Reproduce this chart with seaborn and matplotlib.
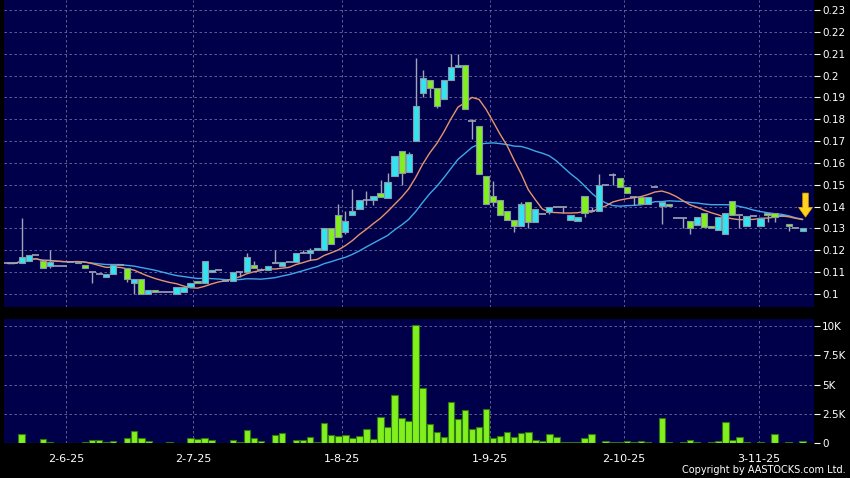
import numpy as np
import pandas as pd
import matplotlib
matplotlib.use("Agg")
import matplotlib.pyplot as plt
import seaborn as sns

# daily candles (price in HKD), volume in thousands of shares
opens = [0.114, 0.114, 0.114, 0.1151, 0.1178, 0.115, 0.113, 0.113, 0.113, 0.1145,
         0.114, 0.1133, 0.110, 0.109, 0.108, 0.109, 0.1133, 0.1118, 0.1049, 0.1067,
         0.100, 0.1018, 0.1008, 0.1008, 0.100, 0.1008, 0.103, 0.106, 0.105, 0.110,
         0.111, 0.106, 0.106, 0.110, 0.110, 0.1133, 0.1108, 0.111, 0.1148, 0.113,
         0.1148, 0.1148, 0.119, 0.119, 0.120, 0.120, 0.130, 0.1362, 0.1286, 0.136,
         0.1388, 0.143, 0.143, 0.1461, 0.1438, 0.154, 0.1657, 0.156, 0.170, 0.192,
         0.1982, 0.1941, 0.1895, 0.198, 0.204, 0.205, 0.1792, 0.177, 0.154, 0.1448,
         0.1431, 0.138, 0.1338, 0.1311, 0.142, 0.1331, 0.1366, 0.1377, 0.140, 0.140,
         0.1338, 0.1335, 0.1449, 0.138, 0.138, 0.150, 0.1546, 0.1531, 0.1489, 0.1446,
         0.1443, 0.1412, 0.149, 0.1403, 0.1411, 0.135, 0.135, 0.1335, 0.1315, 0.137,
         0.131, 0.1295, 0.1277, 0.1428, 0.136, 0.1311, 0.1357, 0.1311, 0.1369, 0.1369,
         0.1357, 0.132, 0.130, 0.1288]
closes = [0.114, 0.114, 0.117, 0.1178, 0.1178, 0.112, 0.1148, 0.113, 0.113, 0.1145,
          0.1148, 0.1118, 0.110, 0.109, 0.109, 0.1133, 0.1133, 0.1067, 0.1067, 0.100,
          0.1018, 0.1008, 0.1008, 0.1008, 0.103, 0.103, 0.105, 0.105, 0.115, 0.111,
          0.111, 0.106, 0.110, 0.110, 0.1168, 0.1118, 0.1108, 0.113, 0.114, 0.1148,
          0.1148, 0.119, 0.119, 0.120, 0.1212, 0.130, 0.123, 0.126, 0.1336, 0.138,
          0.143, 0.143, 0.1449, 0.1446, 0.1513, 0.1632, 0.1555, 0.1642, 0.1863, 0.199,
          0.1941, 0.1859, 0.1979, 0.204, 0.205, 0.1845, 0.1792, 0.155, 0.1413, 0.142,
          0.1362, 0.1338, 0.1311, 0.1412, 0.1331, 0.1388, 0.1366, 0.140, 0.140, 0.140,
          0.1362, 0.1351, 0.1372, 0.138, 0.150, 0.150, 0.1546, 0.1489, 0.1462, 0.1446,
          0.1412, 0.1446, 0.149, 0.1423, 0.1403, 0.135, 0.135, 0.130, 0.1351, 0.1308,
          0.130, 0.1351, 0.137, 0.1362, 0.136, 0.1357, 0.1357, 0.1349, 0.1362, 0.1351,
          0.1357, 0.1312, 0.130, 0.130]
highs = [0.114, 0.114, 0.135, 0.118, 0.1178, 0.115, 0.120, 0.113, 0.113, 0.1145,
         0.1148, 0.1133, 0.110, 0.109, 0.109, 0.1138, 0.1133, 0.1118, 0.1067, 0.1067,
         0.1018, 0.1018, 0.1008, 0.1008, 0.103, 0.103, 0.105, 0.106, 0.115, 0.111,
         0.111, 0.106, 0.110, 0.110, 0.119, 0.1152, 0.112, 0.113, 0.120, 0.1148,
         0.1148, 0.119, 0.120, 0.1212, 0.1212, 0.130, 0.130, 0.1412, 0.1382, 0.148,
         0.143, 0.1472, 0.1449, 0.1522, 0.1553, 0.1632, 0.1657, 0.1651, 0.208, 0.2024,
         0.1982, 0.1941, 0.1979, 0.210, 0.210, 0.205, 0.180, 0.177, 0.154, 0.1517,
         0.1431, 0.138, 0.1338, 0.142, 0.142, 0.1388, 0.1366, 0.140, 0.140, 0.140,
         0.1362, 0.1351, 0.1449, 0.140, 0.155, 0.150, 0.1554, 0.1531, 0.1489, 0.1446,
         0.1443, 0.1446, 0.149, 0.1423, 0.1411, 0.135, 0.135, 0.1335, 0.1351, 0.137,
         0.131, 0.1351, 0.137, 0.1428, 0.136, 0.1357, 0.1357, 0.1349, 0.1369, 0.1369,
         0.1357, 0.132, 0.130, 0.130]
lows = [0.114, 0.114, 0.114, 0.115, 0.1178, 0.112, 0.112, 0.113, 0.113, 0.1145,
        0.114, 0.1118, 0.105, 0.109, 0.108, 0.109, 0.1133, 0.1057, 0.100, 0.100,
        0.100, 0.1008, 0.1008, 0.1008, 0.100, 0.1008, 0.103, 0.105, 0.105, 0.110,
        0.111, 0.106, 0.106, 0.108, 0.110, 0.1118, 0.1108, 0.111, 0.114, 0.113,
        0.1148, 0.1148, 0.119, 0.1156, 0.120, 0.120, 0.123, 0.126, 0.1275, 0.136,
        0.1388, 0.1408, 0.1408, 0.1446, 0.1438, 0.154, 0.150, 0.156, 0.170, 0.190,
        0.190, 0.185, 0.1895, 0.198, 0.204, 0.1845, 0.1708, 0.155, 0.1413, 0.1405,
        0.1362, 0.1338, 0.1285, 0.1311, 0.130, 0.1331, 0.1366, 0.1366, 0.140, 0.1372,
        0.1338, 0.1335, 0.1351, 0.138, 0.138, 0.150, 0.150, 0.1489, 0.1462, 0.1408,
        0.1412, 0.1412, 0.149, 0.132, 0.1403, 0.135, 0.130, 0.1277, 0.1315, 0.1308,
        0.130, 0.1295, 0.1277, 0.1362, 0.130, 0.1311, 0.1357, 0.1311, 0.1331, 0.133,
        0.1357, 0.129, 0.130, 0.1288]
volumes = [0, 0, 0.77, 0.05, 0, 0.34, 0.14, 0, 0, 0,
           0, 0.10, 0.28, 0.28, 0.14, 0.20, 0, 0.48, 1.05, 0.43,
           0.20, 0, 0, 0.08, 0, 0, 0.43, 0.37, 0.43, 0.28,
           0, 0, 0.26, 0.10, 1.10, 0.48, 0.20, 0, 0.71, 0.88,
           0, 0.28, 0.28, 0.51, 0.09, 1.73, 0.74, 0.60, 0.74, 0.43,
           0.60, 1.25, 0.34, 2.24, 1.42, 4.15, 2.20, 1.93, 10.06, 4.69,
           1.62, 0.94, 0.51, 3.55, 2.05, 2.84, 1.19, 1.36, 2.90, 0.43,
           0.63, 1.00, 0.51, 0.85, 0.97, 0.26, 0.23, 0.77, 0.57, 0.09,
           0.09, 0.14, 0.43, 0.77, 0, 0.23, 0.10, 0.09, 0.20, 0.14,
           0.23, 0.09, 0, 2.19, 0.09, 0, 0.14, 0.26, 0.11, 0,
           0.09, 0.20, 1.85, 0.28, 0.54, 0.09, 0, 0.09, 0, 0.77,
           0, 0.09, 0.05, 0.20]

date_pos = [8.3, 26.4, 47.5, 68.6, 87.6, 106.8]
date_labels = ["2-6-25", "2-7-25", "1-8-25", "1-9-25", "2-10-25", "3-11-25"]
price_ticks = [0.10, 0.11, 0.12, 0.13, 0.14, 0.15, 0.16, 0.17, 0.18, 0.19, 0.20, 0.21, 0.22, 0.23]
price_labels = ["0.1", "0.11", "0.12", "0.13", "0.14", "0.15", "0.16", "0.17",
                "0.18", "0.19", "0.2", "0.21", "0.22", "0.23"]
vol_ticks = [0, 2.5, 5, 7.5, 10]
vol_labels = ["0", "2.5K", "5K", "7.5K", "10K"]

NAVY = "#00004a"
GRID = "#6c6ca0"
CYAN = "#33e3f0"
LIME = "#82f01e"
EDGE = "#8a98a6"
WICK = "#a0a4b4"

df = pd.DataFrame({"open": opens, "high": highs, "low": lows,
                   "close": closes, "volume": volumes})
df["day"] = np.arange(len(df))
df["ma10"] = df["close"].rolling(10, min_periods=1).mean()
df["ma20"] = df["close"].rolling(20, min_periods=1).mean()

sns.set_style("dark", {"axes.facecolor": NAVY, "figure.facecolor": "black"})
plt.rcParams["font.family"] = ["DejaVu Sans"]

fig = plt.figure(figsize=(8.5, 4.78), dpi=100, facecolor="black")
ax = fig.add_axes([0.0047, 0.3584, 0.9529, 0.6416])
axv = fig.add_axes([0.0047, 0.0726, 0.9529, 0.26])

# moving averages
sns.lineplot(data=df, x="day", y="ma20", ax=ax, color="#3ea8e8", lw=1.0, zorder=2)
sns.lineplot(data=df, x="day", y="ma10", ax=ax, color="#e89468", lw=1.0, zorder=2)

# candles
up = df[df.close > df.open]
down = df[df.close < df.open]
flat = df[df.close == df.open]
wk = df[df.high > df.low]
ax.vlines(wk.day, wk.low, wk.high, color=WICK, lw=1.0, zorder=3)
ax.bar(up.day, up.close - up.open, bottom=up.open, width=0.88,
       color=CYAN, edgecolor=EDGE, linewidth=0.8, zorder=4)
ax.bar(down.day, down.open - down.close, bottom=down.close, width=0.88,
       color=LIME, edgecolor=EDGE, linewidth=0.8, zorder=4)
ax.hlines(flat.close, flat.day - 0.5, flat.day + 0.5, color=WICK, lw=1.2, zorder=4)

last = df.iloc[-1]
ax.annotate("", xy=(last.day + 0.4, 0.1352), xytext=(last.day + 0.4, 0.1462),
            arrowprops=dict(arrowstyle="simple,head_length=0.7,head_width=1.0,tail_width=0.4",
                            fc="#ffd21e", ec="#e8a800", lw=0.5, shrinkA=0, shrinkB=0,
                            mutation_scale=10),
            annotation_clip=False, zorder=6)

# volume
sns.barplot(data=df, x="day", y="volume", native_scale=True, ax=axv, color=LIME,
            saturation=1, edgecolor="#2f7a10", linewidth=0.8, width=0.92,
            errorbar=None, zorder=3)

for a in (ax, axv):
    a.set_xlim(-0.51, 114.6)
    a.set_xticks(date_pos)
    a.grid(True, color=GRID, linestyle=(0, (3, 3)), lw=0.6)
    a.set_axisbelow(True)
    a.set_xlabel("")
    a.set_ylabel("")
    a.yaxis.tick_right()
    a.tick_params(axis="y", colors="white", length=4, width=0.8, pad=2, labelsize=7.5)
    for s in a.spines.values():
        s.set_visible(False)

ax.set_ylim(0.0942, 0.2346)
ax.set_yticks(price_ticks)
ax.set_yticklabels(price_labels)
ax.tick_params(axis="x", length=0, labelbottom=False)

axv.set_ylim(0, 10.6)
axv.set_yticks(vol_ticks)
axv.set_yticklabels(vol_labels)
axv.set_xticklabels(date_labels)
axv.tick_params(axis="x", colors="white", length=3, width=0.8, pad=5, labelsize=8)

fig.text(0.9945, 0.006, "Copyright by AASTOCKS.com Ltd.", ha="right", va="bottom",
         color="white", fontsize=7)

fig.savefig("out.png", dpi=100, facecolor="black")
